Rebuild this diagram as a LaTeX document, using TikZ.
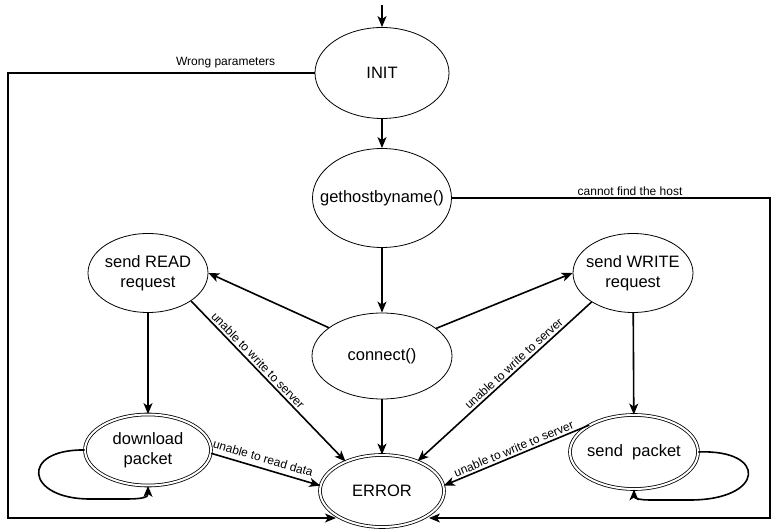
\documentclass[tikz,border=0pt]{standalone}
\usepackage{fontspec}
\setmainfont{Liberation Sans}
\usepackage{tikz}
\usetikzlibrary{shapes.geometric, arrows.meta, positioning}
\newcommand{\statefont}{\fontsize{16.5}{20}\selectfont}
\newcommand{\lblfont}{\fontsize{12}{14}\selectfont}
\tikzstyle{state} = [ellipse,
draw=black,
line width=0.8pt,
inner xsep=-8pt,
inner ysep=0pt,
align=center,
text centered,
font=\statefont]
\tikzstyle{final} = [state,
double,
double distance=2pt]
\tikzstyle{arrow} = [->, line width=1.6pt]
\tikzstyle{lbl} = [font=\lblfont, inner sep=2pt]

\begin{document}
\begin{tikzpicture}[x=1pt, y=-1pt, >={Stealth[length=11pt, width=9pt, inset=3pt]}]
      \useasboundingbox (0,0) rectangle (777,529);
      \node (init) [state, minimum width=134pt, minimum height=91pt] at (382,73) {INIT};
      \node (gh) [state, node distance=125pt, below of=init, inner xsep=-14pt, minimum width=139pt, minimum height=99pt] {gethostbyname()};
      \node (conn) [state, node distance=158pt, below of=gh, minimum width=140pt, minimum height=86pt] {connect()};
      \node (err) [final, node distance=135pt, below of=conn, minimum width=124pt, minimum height=72pt] {ERROR};
      \node (read) [state, node distance=234pt, left of=conn, yshift=83pt, minimum width=120pt, minimum height=79pt] {send READ\\request};
      \node (write) [state, node distance=251pt, right of=conn, yshift=83pt, minimum width=120pt, minimum height=79pt] {send WRITE\\request};
      \node (dl) [final, node distance=177pt, below of=read, minimum width=126pt, minimum height=71pt] {download\\packet};
      \node (sp) [final, node distance=179pt, below of=write, xshift=1pt, minimum width=128pt, minimum height=74pt] {send\ \ packet};
      % corners of the two long error paths
      \coordinate (entry) at (382,5);
      \coordinate (wl) at (8,73);
      \coordinate (wb) at (8,518);
      \coordinate (errsw) at (336,518);
      \coordinate (hr) at (770,198);
      \coordinate (hb) at (770,518);
      \coordinate (errse) at (429,518);
      \draw [arrow] (entry) -- (init);
      \draw [arrow] (init) -- (gh);
      \draw [arrow] (gh) -- (conn);
      \draw [arrow] (conn) -- (err);
      \draw [arrow] (conn.152) -- (read.east);
      \draw [arrow] (conn.27) -- (write.west);
      \draw [arrow] (read) -- (dl);
      \draw [arrow] (write) -- (sp);
      \draw [arrow] (read.-33) -- node[lbl, sloped, above, pos=0.4] {unable to write to server} (err.141);
      \draw [arrow] (write.215) -- node[lbl, sloped, above, pos=0.42] {unable to write to server} (err.40);
      \draw [arrow] (dl.-3) -- node[lbl, sloped, above=3pt, pos=0.45] {unable to read data} (err.175);
      \draw [arrow] (sp.149) -- node[lbl, sloped, above, pos=0.5] {unable to write to server} (err.5);
      \draw [arrow] (init.west) -- node[lbl, above=2pt, pos=0.29] {Wrong parameters} (wl) -- (wb) -- (errsw);
      \draw [arrow] (gh.east) -- node[lbl, above, pos=0.56] {cannot find the host} (hr) -- (hb) -- (errse);
      % self loops
      \draw [arrow] (dl.west) .. controls (20,449) and (25,499) .. (90,499) -- (125,499) .. controls (145,499) and (148,497) .. (dl.south);
      \draw [arrow] (sp.east) .. controls (768,449) and (765,500) .. (690,500) -- (650,500) .. controls (636,500) and (634,497) .. (sp.south);
\end{tikzpicture}
\end{document}
